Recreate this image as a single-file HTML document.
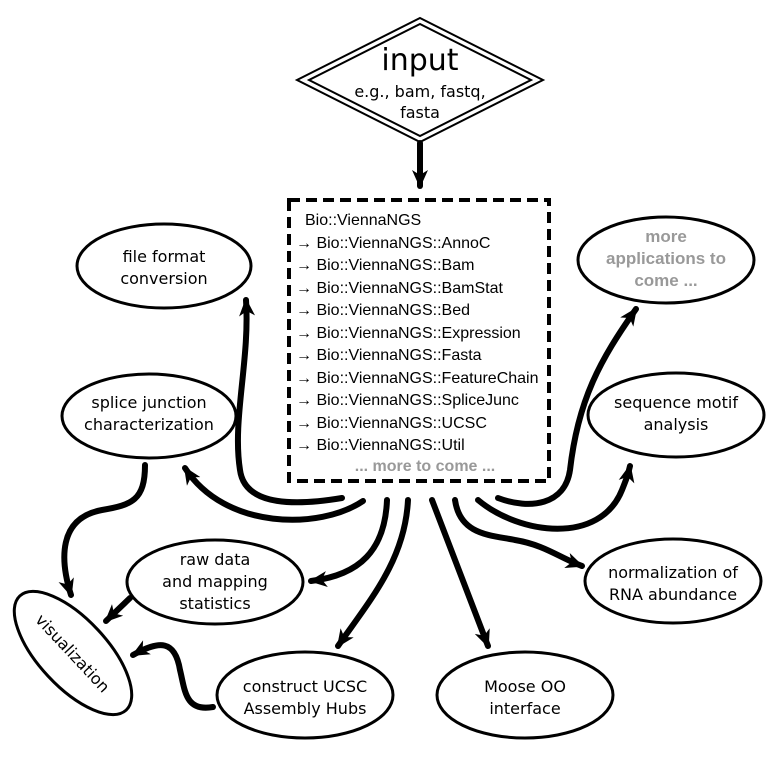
<!DOCTYPE html>
<html><head><meta charset="utf-8"><style>
html,body{margin:0;padding:0;background:#fff}
svg{display:block}
.e{font-family:"DejaVu Sans","Liberation Sans",sans-serif;font-size:16px;text-anchor:middle;fill:#000}
.m{font-family:"Liberation Sans",sans-serif;font-size:16px;fill:#000}
.c{fill:none;stroke:#000;stroke-width:6;stroke-linecap:round}
</style></head><body>
<svg width="780" height="757" viewBox="0 0 780 757" xmlns="http://www.w3.org/2000/svg">
<defs>
<marker id="a" markerUnits="userSpaceOnUse" markerWidth="24" markerHeight="20" refX="16" refY="8" orient="auto">
<path d="M0,0 L18,8 L0,16 L5,8 z" fill="#000"/>
</marker>
</defs>
<!-- diamond -->
<polygon points="420,18 543,80 420,142 297,80" fill="#fff" stroke="#000" stroke-width="2"/>
<polygon points="420,24 531,80 420,136 309,80" fill="none" stroke="#000" stroke-width="2"/>
<text class="e" x="420" y="70" style="font-size:30px">input</text>
<text class="e" x="420" y="97">e.g., bam, fastq,</text>
<text class="e" x="420" y="118">fasta</text>
<path class="c" d="M420,143 L420,186" marker-end="url(#a)"/>
<!-- box -->
<rect x="289" y="200" width="260" height="281" fill="none" stroke="#000" stroke-width="4" stroke-dasharray="11,6"/>
<text class="m" x="305" y="225">Bio::ViennaNGS</text>
<g class="m">
<text class="m" x="296" y="248">→ Bio::ViennaNGS::AnnoC</text>
<text class="m" x="296" y="270">→ Bio::ViennaNGS::Bam</text>
<text class="m" x="296" y="293">→ Bio::ViennaNGS::BamStat</text>
<text class="m" x="296" y="315">→ Bio::ViennaNGS::Bed</text>
<text class="m" x="296" y="338">→ Bio::ViennaNGS::Expression</text>
<text class="m" x="296" y="360">→ Bio::ViennaNGS::Fasta</text>
<text class="m" x="296" y="383">→ Bio::ViennaNGS::FeatureChain</text>
<text class="m" x="296" y="405">→ Bio::ViennaNGS::SpliceJunc</text>
<text class="m" x="296" y="428">→ Bio::ViennaNGS::UCSC</text>
<text class="m" x="296" y="450">→ Bio::ViennaNGS::Util</text>
</g>
<text class="m" x="425" y="471" style="fill:#999;font-weight:bold;text-anchor:middle">... more to come ...</text>
<!-- ellipses -->
<g fill="#fff" stroke="#000" stroke-width="3">
<ellipse cx="164" cy="266" rx="87" ry="42"/>
<ellipse cx="149" cy="416" rx="87" ry="42"/>
<ellipse cx="666" cy="260" rx="88" ry="43"/>
<ellipse cx="676" cy="415" rx="88" ry="42"/>
<ellipse cx="215" cy="582" rx="88" ry="42"/>
<ellipse cx="673" cy="581" rx="88" ry="42"/>
<ellipse cx="305" cy="695" rx="88" ry="43"/>
<ellipse cx="525" cy="695" rx="88" ry="43"/>
<ellipse cx="73" cy="653" rx="78" ry="34" transform="rotate(47 73 653)"/>
</g>
<text class="e" x="164" y="262">file format</text><text class="e" x="164" y="284">conversion</text>
<text class="e" x="149" y="408">splice junction</text><text class="e" x="149" y="430">characterization</text>
<g class="e" style="fill:#999;font-weight:bold;font-family:'Liberation Sans',sans-serif;font-size:17px">
<text x="666" y="242">more</text><text x="666" y="264">applications to</text><text x="666" y="286">come ...</text></g>
<text class="e" x="676" y="408">sequence motif</text><text class="e" x="676" y="430">analysis</text>
<text class="e" x="215" y="565">raw data</text><text class="e" x="215" y="587">and mapping</text><text class="e" x="215" y="609">statistics</text>
<text class="e" x="673" y="578">normalization of</text><text class="e" x="673" y="600">RNA abundance</text>
<text class="e" x="305" y="692">construct UCSC</text><text class="e" x="305" y="714">Assembly Hubs</text>
<text class="e" x="525" y="692">Moose OO</text><text class="e" x="525" y="714">interface</text>
<text class="e" x="73" y="659" transform="rotate(47 73 653)">visualization</text>
<!-- connectors -->
<path class="c" d="M342,498 C300,505 245,508 240,470 C232,420 250,360 246,300" marker-end="url(#a)"/>
<path class="c" d="M363,501 C320,530 225,530 185,468" marker-end="url(#a)"/>
<path class="c" d="M145,465 C145,500 132,505 102,510 C58,518 60,560 71,595" marker-end="url(#a)"/>
<path class="c" d="M130,598 L106,621" marker-end="url(#a)"/>
<path class="c" d="M387,500 C385,550 360,575 311,581" marker-end="url(#a)"/>
<path class="c" d="M408,500 C405,560 370,600 338,646" marker-end="url(#a)"/>
<path class="c" d="M213,707 C185,712 185,690 180,670 C175,640 160,640 133,655" marker-end="url(#a)"/>
<path class="c" d="M432,500 L488,646" marker-end="url(#a)"/>
<path class="c" d="M455,500 C460,535 490,535 515,540 C545,545 560,558 582,566" marker-end="url(#a)"/>
<path class="c" d="M478,500 C520,535 600,545 622,490 C626,480 628,475 630,466" marker-end="url(#a)"/>
<path class="c" d="M498,498 C530,510 565,505 570,470 C578,400 600,360 636,309" marker-end="url(#a)"/>
</svg>
</body></html>
